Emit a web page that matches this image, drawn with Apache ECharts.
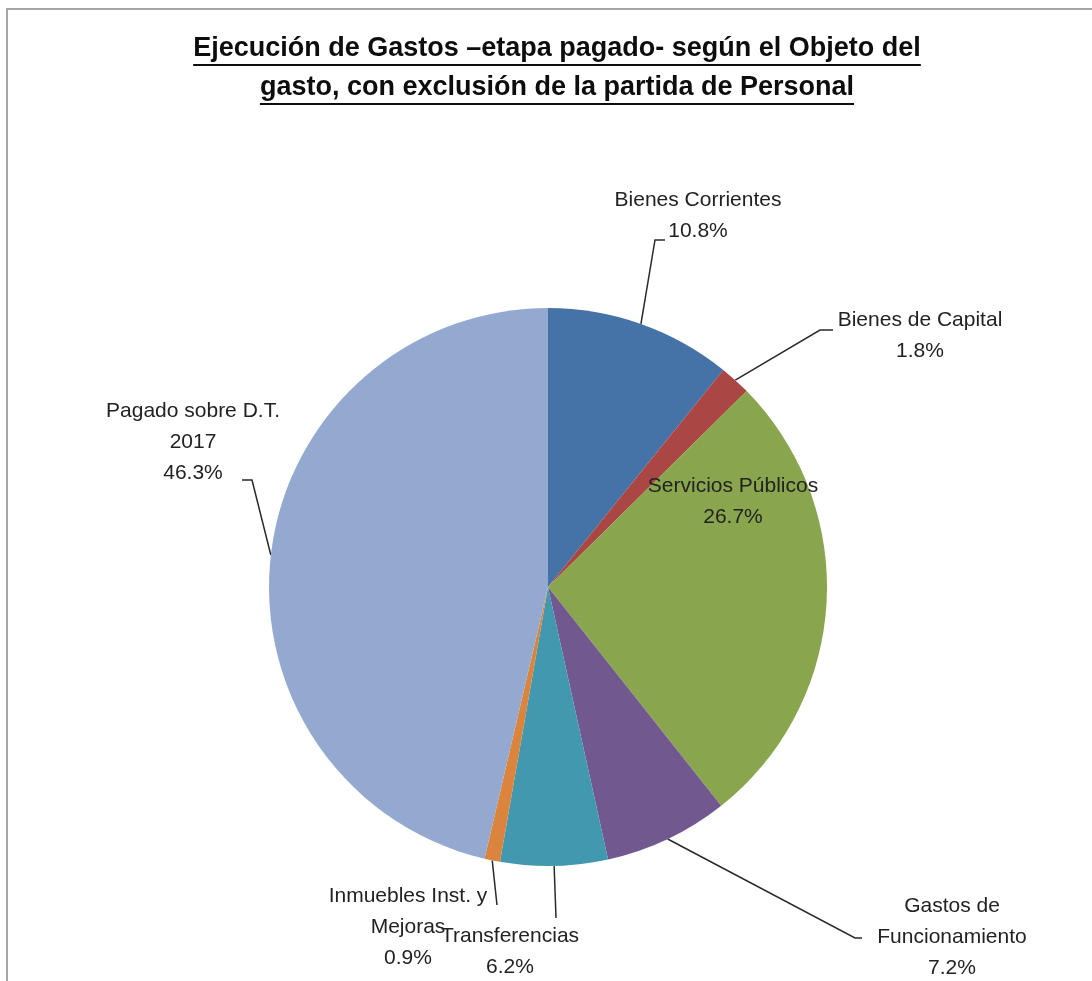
<!DOCTYPE html>
<html><head><meta charset="utf-8">
<script src="https://cdn.jsdelivr.net/npm/echarts@6/dist/echarts.min.js"></script>
<style>html,body{margin:0;padding:0;background:#fff}#c{width:1092px;height:981px}</style>
</head><body><div id="c"></div>
<script>
const titleLines = ['Ejecución de Gastos –etapa pagado- según el Objeto del', 'gasto, con exclusión de la partida de Personal'];
const categories = ['Bienes Corrientes', 'Bienes de Capital', 'Servicios Públicos', 'Gastos de\nFuncionamiento', 'Transferencias', 'Inmuebles Inst. y\nMejoras', 'Pagado sobre D.T.\n2017'];
const values = [10.8, 1.8, 26.7, 7.2, 6.2, 0.9, 46.3];

const colors = ['#4572A7', '#AA4643', '#89A54E', '#71588F', '#4198AF', '#DB843D', '#93A9CF'];
// label placement: [centerX, centerY, elbowX, elbowY, endX, endY]
const labelLayouts = [
  [698, 216, 655, 240, 665, 240],
  [920, 336, 820, 330, 833, 330],
  [733, 502, null],
  [952, 937, 855, 938, 862, 938],
  [510, 952, 556, 918, 556, 918],
  [408, 927, 497, 905, 497, 905],
  [193, 442, 252, 480, 242, 480]
];

const labelFont = 'Liberation Sans';
const titleFont = 'Liberation Sans';
const titleSize = 27;

function measure(txt, font) {
  const c = document.createElement('canvas').getContext('2d');
  c.font = font;
  return c.measureText(txt).width;
}

const chart = echarts.init(document.getElementById('c'), null, {renderer: 'canvas'});
const titleCX = 557;
const titleYs = [49, 88];
const graphics = [
  {type: 'rect', shape: {x: 7, y: 9, width: 1200, height: 1200}, style: {fill: null, stroke: '#a6a6a6', lineWidth: 2}, silent: true}
];
titleLines.forEach((t, i) => {
  graphics.push({type: 'text', x: titleCX, y: titleYs[i], style: {text: t, font: 'bold ' + titleSize + 'px "' + titleFont + '"', fill: '#0d0d0d', textAlign: 'center', textVerticalAlign: 'middle'}});
  const w = measure(t, 'bold ' + titleSize + 'px "' + titleFont + '"');
  graphics.push({type: 'line', shape: {x1: titleCX - w / 2, y1: titleYs[i] + 16, x2: titleCX + w / 2, y2: titleYs[i] + 16}, style: {stroke: '#0d0d0d', lineWidth: 2}});
});

chart.setOption({
  backgroundColor: '#fff',
  animation: false,
  graphic: graphics,
  series: [{
    type: 'pie',
    center: [548, 587],
    radius: 279,
    startAngle: 90,
    clockwise: true,
    emphasis: {disabled: true},
    itemStyle: {borderWidth: 0},
    data: categories.map((n, i) => ({
      name: n, value: values[i], itemStyle: {color: colors[i]},
      labelLine: {show: labelLayouts[i][2] != null}
    })),
    label: {
      show: true, position: 'outside',
      formatter: p => p.name + '\n' + p.value.toFixed(1) + '%',
      fontFamily: labelFont, fontSize: 21, lineHeight: 31, color: '#222', align: 'center'
    },
    labelLine: {show: true, length: 20, length2: 10, lineStyle: {color: '#2a2a2a', width: 1.5}},
    labelLayout: function (params) {
      const L = labelLayouts[params.dataIndex];
      const o = {x: L[0], y: L[1], align: 'center', verticalAlign: 'middle'};
      if (L[2] != null && params.labelLinePoints) {
        o.labelLinePoints = [params.labelLinePoints[0], [L[2], L[3]], [L[4], L[5]]];
      }
      return o;
    }
  }]
});
</script>
</body></html>
